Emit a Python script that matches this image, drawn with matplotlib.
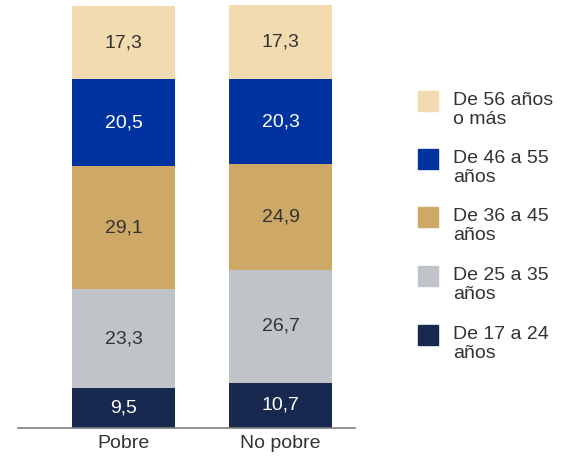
import numpy as np
from matplotlib import pyplot as plt
from matplotlib.patches import Rectangle

plt.rcParams['font.family'] = ['Liberation Sans', 'DejaVu Sans']

groups = ['Pobre', 'No pobre']
# bottom to top
age_labels = ['De 17 a 24\naños', 'De 25 a 35\naños', 'De 36 a 45\naños',
              'De 46 a 55\naños', 'De 56 años\no más']
values = np.array([
    [9.5, 10.7],
    [23.3, 26.7],
    [29.1, 24.9],
    [20.5, 20.3],
    [17.3, 17.3],
])
colors = ['#18294f', '#c0c4c8', '#cea866', '#0033a0', '#f2dbb0']
text_colors = ['white', '#333333', '#333333', 'white', '#333333']

fig = plt.figure(figsize=(5.61, 4.61), dpi=100)
ax = fig.add_axes([0.032, 0.0716, 0.601, 0.9176])

x = np.arange(len(groups))
bottom = np.zeros(len(groups))
for vals, c, tc in zip(values, colors, text_colors):
    bars = ax.bar(x, vals, bottom=bottom, width=0.656, color=c, edgecolor='none')
    for xi, b, v in zip(x, bottom, vals):
        ax.text(xi, b + v / 2, f"{v:.1f}".replace('.', ','), ha='center', va='center',
                fontsize=14, color=tc)
    bottom += vals

ax.set_xlim(-0.672, 1.475)
ax.set_ylim(0, 100)
ax.set_xticks(x)
ax.set_xticklabels(groups, fontsize=14, color='#333333')
ax.tick_params(axis='x', length=0, pad=5)
ax.set_yticks([])
for s in ['top', 'right', 'left']:
    ax.spines[s].set_visible(False)
ax.spines['bottom'].set_color('#808080')
ax.spines['bottom'].set_linewidth(1.2)

# legend, top entry first
W, H = 561, 461
centers = [101, 159, 217, 276, 335]
for cy, lab, c in zip(centers, age_labels[::-1], colors[::-1]):
    fig.patches.append(Rectangle((418 / W, 1 - (cy + 10) / H), 20 / W, 20 / H,
                                 transform=fig.transFigure, color=c))
    fig.text(453 / W, 1 - (cy - 9) / H, lab, ha='left', va='top', fontsize=14,
             color='#333333', linespacing=1.12)

fig.savefig('out.png', dpi=100)
